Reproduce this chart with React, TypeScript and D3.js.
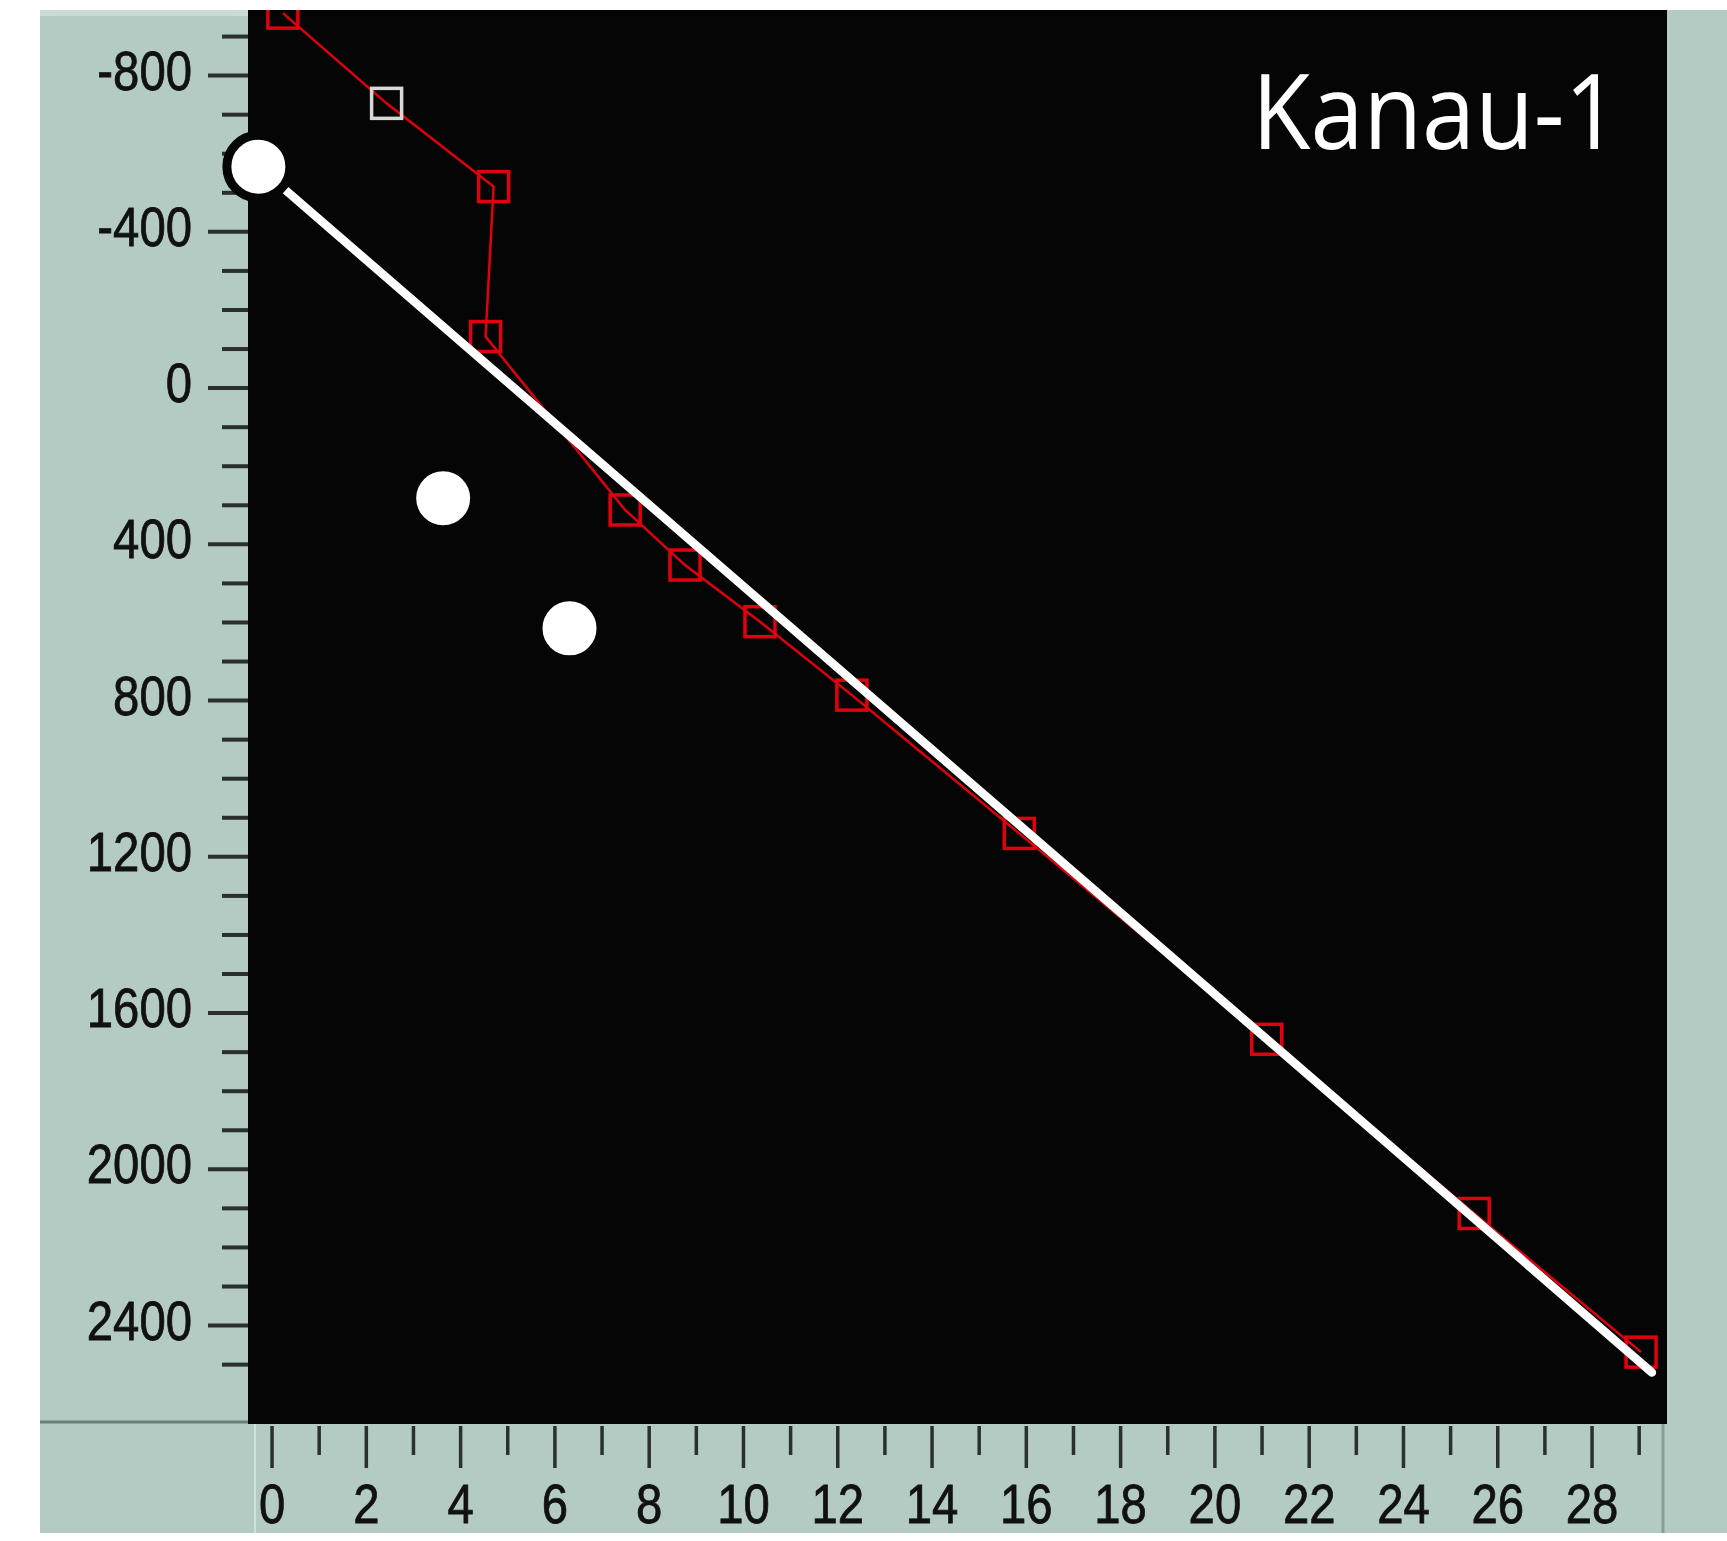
import React from "react";
import * as d3 from "d3";

// ---- data ----
const obsX = [0.23, 2.43, 4.7, 4.53, 7.49, 8.76, 10.35, 12.3, 15.85, 21.1, 25.5, 29.04];
const obsY = [-960, -729, -516, -132, 312, 453, 598, 786, 1140, 1667, 2113, 2468];
const obsWhite = [false, true, false, false, false, false, false, false, false, false, false, false];

const trendX = [-0.29, 29.27];
const trendY = [-567, 2520];

const circX = [-0.29, 3.63, 6.31];
const circY = [-567, 282, 615];
const circBig = [true, false, false];

const yMajor = [-800, -400, 0, 400, 800, 1200, 1600, 2000, 2400];
const yMinor = d3.range(-900, 2501, 100);
const xMajor = d3.range(0, 29, 2);
const xMinor = d3.range(0, 30, 1);

const title = "Kanau-1";

const W = 1727;
const H = 1541;
const plotL = 248, plotR = 1667, plotT = 10, plotB = 1424;
const panelL = 40, panelB = 1533;
const GREY = "#b3cbc3";
const TICK = "#2b2f2e";
const RED = "#e0000e";

export default function App() {
  const x = d3.scaleLinear().domain([-0.51, 29.59]).range([plotL, plotR]);
  const y = d3.scaleLinear().domain([-968, 2652]).range([plotT, plotB]);

  const obs = obsX.map((v, i) => ({ x: v, y: obsY[i], white: obsWhite[i] }));
  const line = d3
    .line<{ x: number; y: number }>()
    .x((d) => x(d.x))
    .y((d) => y(d.y));
  const trend = trendX.map((v, i) => ({ x: v, y: trendY[i] }));
  const sq = 30;

  return (
    <svg
      width={W}
      height={H}
      style={{ position: "absolute", left: 0, top: 0, background: "#fff" }}
      fontFamily="'Liberation Sans', Arial, sans-serif"
    >
      <defs>
        <clipPath id="plotclip">
          <rect x={plotL} y={plotT} width={plotR - plotL} height={plotB - plotT} />
        </clipPath>
      </defs>
      {/* panels */}
      <rect x={panelL} y={plotT} width={W - panelL} height={panelB - plotT} fill={GREY} />
      <rect x={panelL} y={plotT} width={plotL - panelL} height={6} fill="#c9dcd6" />
      <line x1={panelL} x2={plotL} y1={plotB - 2} y2={plotB - 2} stroke="#6d7f79" strokeWidth={3} />
      <line x1={255} x2={255} y1={plotB} y2={panelB} stroke="#cfe0da" strokeWidth={2} />
      <line x1={1663} x2={1663} y1={plotB} y2={panelB} stroke="#8a9c96" strokeWidth={3} />
      <rect x={plotL} y={plotT} width={plotR - plotL} height={plotB - plotT} fill="#050505" />

      {/* y axis ticks */}
      {yMinor.map((v) => {
        const major = v % 400 === 0;
        return (
          <line
            key={"ym" + v}
            x1={major ? 208 : 222}
            x2={plotL}
            y1={y(v)}
            y2={y(v)}
            stroke={TICK}
            strokeWidth={4}
          />
        );
      })}
      {yMajor.map((v) => (
        <g key={"yl" + v} transform={`translate(192,${y(v) + 14}) scale(0.86,1)`}>
          <text x={0} y={0} textAnchor="end" fontSize={55} fill="#111" stroke="#111" strokeWidth={0.8}>
            {String(v)}
          </text>
        </g>
      ))}

      {/* x axis ticks */}
      {xMinor.map((v) => {
        const major = v % 2 === 0;
        return (
          <line
            key={"xm" + v}
            x1={x(v)}
            x2={x(v)}
            y1={plotB + 2}
            y2={major ? 1468 : 1455}
            stroke={TICK}
            strokeWidth={3.5}
          />
        );
      })}
      {xMajor.map((v) => (
        <g key={"xl" + v} transform={`translate(${x(v)},1523) scale(0.86,1)`}>
          <text x={0} y={0} textAnchor="middle" fontSize={55} fill="#111" stroke="#111" strokeWidth={0.8}>
            {String(v)}
          </text>
        </g>
      ))}

      <g clipPath="url(#plotclip)">
        {/* observed red line */}
        <path d={line(obs) || ""} fill="none" stroke={RED} strokeWidth={2.5} />
        {obs.map((d, i) => (
          <rect
            key={"sq" + i}
            x={x(d.x) - sq / 2}
            y={y(d.y) - sq / 2}
            width={sq}
            height={sq}
            fill="none"
            stroke={d.white ? "#d8d8d8" : RED}
            strokeWidth={3.5}
          />
        ))}
        {/* trend line */}
        <path d={line(trend) || ""} fill="none" stroke="#fff" strokeWidth={8.5} strokeLinecap="round" />
        {/* circles */}
        {circX.map((v, i) => (
          <circle
            key={"c" + i}
            cx={x(v)}
            cy={y(circY[i])}
            r={circBig[i] ? 31.5 : 30.5}
            fill="#fff"
            stroke="#050505"
            strokeWidth={circBig[i] ? 9 : 7}
          />
        ))}
      </g>
      {/* big circle overflows onto the axis panel */}
      <circle
        cx={x(circX[0])}
        cy={y(circY[0])}
        r={31.5}
        fill="#fff"
        stroke="#050505"
        strokeWidth={9}
      />

      <text
        x={1619}
        y={149}
        textAnchor="end"
        fontSize={104}
        fill="#fff"
        fontFamily="'Open Sans', 'Noto Sans', sans-serif"
        textLength={367}
        lengthAdjust="spacingAndGlyphs"
      >
        {title}
      </text>
    </svg>
  );
}
